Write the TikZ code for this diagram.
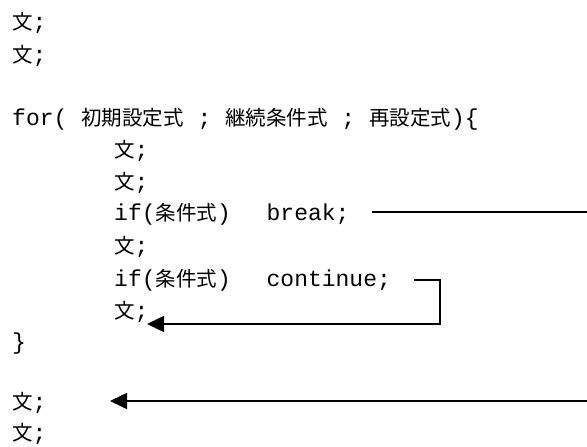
\documentclass[tikz,border=0pt]{standalone}
\usepackage{fontspec}
\setmainfont{Liberation Mono}
\newfontfamily\jp{Noto Sans CJK JP}
\usetikzlibrary{arrows.meta}
\newcommand{\J}[1]{{\jp\fontsize{20.5}{20.5}\selectfont #1}}
\tikzset{
  code/.style={anchor=base west, inner sep=0pt, font=\fontsize{23}{23}\selectfont},
  flow/.style={line width=1.5pt},
  tip/.style={-{Triangle[length=17pt,width=16pt]}}
}
\begin{document}
\begin{tikzpicture}[x=1pt,y=-1pt]
\useasboundingbox (0,0) rectangle (587,447);
\node[code] (l0) at (12,30) {\J{文};};
\node[code] (l1) at (12,62) {\J{文};};
\node[code] (lfor) at (12,125) {for( \J{初期設定式} ; \J{継続条件式} ; \J{再設定式})\{};
\node[code] (b1) at (114,157) {\J{文};};
\node[code] (b2) at (114,189) {\J{文};};
\node[code] (bbreak) at (114,220) {if(\J{条件式})\hspace{22pt} break;};
\node[code] (b3) at (114,253) {\J{文};};
\node[code] (bcont) at (114,286) {if(\J{条件式})\hspace{22pt} continue;};
\node[code] (b4) at (114,318) {\J{文};};
\node[code] (close) at (12,349) {\}};
\node[code] (a1) at (12,409) {\J{文};};
\node[code] (a2) at (12,440) {\J{文};};
\coordinate (brkA) at (372,212);
\coordinate (brkB) at (587,212);
\coordinate (exA) at (587,401);
\coordinate (exB) at (110,401);
\coordinate (cA) at (414,280);
\coordinate (cB) at (440,324);
\coordinate (cC) at (147,324);
\draw[flow] (brkA) -- (brkB);
\draw[flow,tip] (exA) -- (exB);
\draw[flow,tip] (cA) -| (cB) -- (cC);
\end{tikzpicture}
\end{document}
